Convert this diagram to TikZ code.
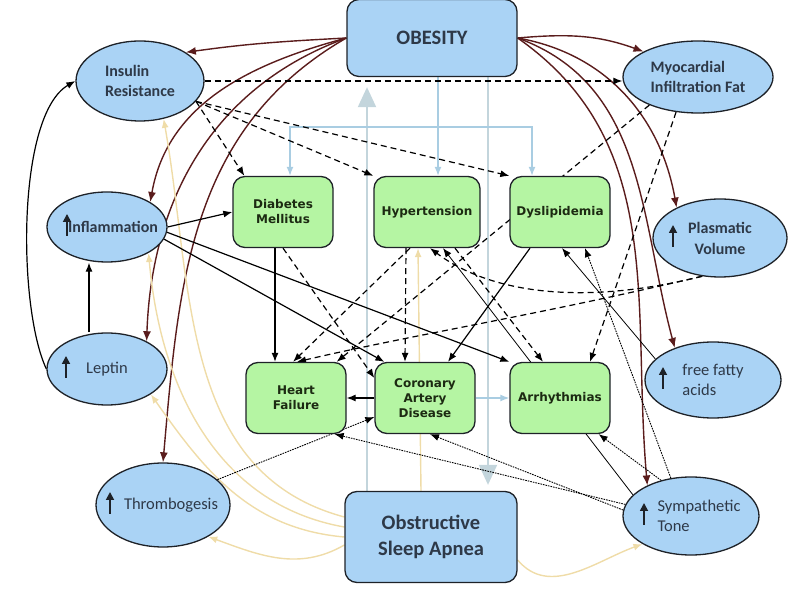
\documentclass[tikz,border=0pt]{standalone}
\usepackage{fontspec}
\setmainfont{Carlito}
\newfontfamily\boxfont{DejaVu Sans}
\usetikzlibrary{arrows.meta,shapes.geometric,backgrounds}
\definecolor{bluefill}{HTML}{AAD3F5}
\definecolor{greenfill}{HTML}{B5F5A3}
\definecolor{framec}{HTML}{1E2228}
\definecolor{inkc}{HTML}{2E3948}
\definecolor{greenink}{HTML}{1C2A12}
\definecolor{fatred}{HTML}{5A1C1C}
\definecolor{osatan}{HTML}{EFDCA8}
\definecolor{linkblue}{HTML}{A9CDE2}
\definecolor{bigray}{HTML}{C3D5DC}

\begin{document}
\begin{tikzpicture}[x=1pt,y=1pt,
  bigbox/.style={draw=framec,line width=1.3pt,fill=bluefill,rounded corners=12pt,text=inkc,align=center,font=\fontsize{20.5}{26}\selectfont\bfseries},
  sickbox/.style={draw=framec,line width=1.3pt,fill=greenfill,rounded corners=12pt,minimum width=100pt,minimum height=71pt,inner sep=2pt,text=greenink,align=center,font=\boxfont\bfseries\fontsize{12}{15}\selectfont},
  cause/.style={ellipse,draw=framec,line width=1.3pt,fill=bluefill,inner sep=0pt,text=inkc,align=left,font=\fontsize{16.5}{19.5}\selectfont},
  boldcause/.style={cause,font=\fontsize{16}{19.5}\selectfont\bfseries},
  upmark/.style={line width=1.7pt,draw=framec,-{Triangle[length=8pt,width=8pt]}},
  link/.style={line width=1.2pt,>={Latex[length=9pt,width=7pt]}},
  dashlink/.style={link,dash pattern=on 6pt off 4pt},
  dotlink/.style={line width=.9pt,dash pattern=on 1.6pt off 1pt,>={Latex[length=9pt,width=7pt]}},
  thinlink/.style={line width=.8pt,>={Latex[length=9pt,width=7pt]}},
  fatlink/.style={draw=fatred,line width=1.4pt,>={Latex[length=10pt,width=8pt]}},
  osalink/.style={draw=osatan,line width=1.4pt,>={Latex[length=9pt,width=7pt]}},
  bluelink/.style={draw=linkblue,line width=1.4pt,>={Latex[length=9pt,width=7pt]}},
  bigarrow/.style={draw=bigray,line width=2pt,-{Triangle[length=20pt,width=18pt]}}]
\useasboundingbox (0,0) rectangle (800,613);
\node[bigbox,minimum width=170pt,minimum height=77pt] (obesity) at (432,575) {OBESITY};
\node[bigbox,minimum width=172pt,minimum height=91pt] (osa) at (431,76) {Obstructive\\Sleep Apnea};
\node[sickbox] (dm) at (283,401) {Diabetes\\Mellitus};
\node[sickbox,minimum width=106pt] (ht) at (427,401) {Hypertension};
\node[sickbox] (dys) at (560,401) {Dyslipidemia};
\node[sickbox] (hf) at (296,215) {Heart\\Failure};
\node[sickbox] (cad) at (425,215) {Coronary\\Artery\\Disease};
\node[sickbox] (arr) at (560,215) {Arrhythmias};
\node[boldcause,minimum width=128pt,minimum height=80pt] (ir) at (140,532) {Insulin\\Resistance};
\node[boldcause,minimum width=150pt,minimum height=72pt] (mif) at (698,536) {Myocardial\\Infiltration Fat};
\node[boldcause,minimum width=120pt,minimum height=70pt,inner xsep=-14pt] (infl) at (107,386) {\hspace*{12pt}Inflammation};
\node[cause,minimum width=134pt,minimum height=78pt,align=center,font=\fontsize{16}{21}\selectfont\bfseries] (pv) at (720,375) {Plasmatic\\Volume};
\node[cause,minimum width=120pt,minimum height=72pt] (lep) at (107,244) {Leptin};
\node[cause,minimum width=136pt,minimum height=76pt] (ffa) at (713,233) {free fatty\\acids};
\node[cause,minimum width=134pt,minimum height=84pt,inner xsep=-14pt] (thr) at (163,108) {\hspace*{16pt}Thrombogesis};
\node[cause,minimum width=136pt,minimum height=78pt,inner xsep=-14pt] (sym) at (691,97) {\hspace*{16pt}Sympathetic\\\hspace*{16pt}Tone};
\foreach \n/\dx in {infl/-40,lep/-41,thr/-53,pv/-47,ffa/-50,sym/-47}
  \draw[upmark] ([shift={(\dx,-9)}]\n.center) -- ++(0,22);
\begin{scope}[on background layer]
% obesity and sleep apnea
\draw[bigarrow,shorten >=10pt] ([xshift=-64]osa.north) -- ([xshift=-65]obesity.south);
\draw[bigarrow,shorten >=6pt] ([xshift=56]obesity.south) -- ([xshift=57]osa.north);
\draw[bluelink,->] ([xshift=6]obesity.south) -- ([xshift=11]ht.north);
\draw[bluelink,<->] ([xshift=7]dm.north) -- ++(0,49) -| ([xshift=-28]dys.north);
\draw[bluelink,->] (cad.east) -- (arr.west);
\draw[fatlink,->] (obesity.west) to[out=183,in=8] (ir.32);
\draw[fatlink,->] (obesity.west) to[out=195,in=80] (infl.30);
\draw[fatlink,->] (obesity.west) to[out=200,in=88] (lep.35);
\draw[fatlink,->] (obesity.west) to[out=210,in=85] (thr.north);
\draw[fatlink,->] (obesity.east) to[out=5,in=160] (mif.155);
\draw[fatlink,->] (obesity.east) to[out=-10,in=100] (pv.145);
\draw[fatlink,->] (obesity.east) to[out=-20,in=105] (ffa.140);
\draw[fatlink,->] (obesity.east) to[out=-35,in=95] (sym.145);
\draw[osalink,->] ([yshift=20]osa.west) to[out=165,in=-80] (ir.-58);
\draw[osalink,->] ([yshift=10]osa.west) to[out=170,in=-85] (infl.-32);
\draw[osalink,->] (osa.west) to[out=175,in=-55] (lep.-30);
\draw[osalink,->] ([yshift=-8]osa.west) to[out=-150,in=-20] (thr.-35);
\draw[osalink,->] ([xshift=-10]osa.north) -- ([xshift=-9]ht.south);
\draw[osalink,->] ([yshift=-23]osa.east) to[out=-50,in=-160] (sym.-150);
% causes
\draw[link,->] ([xshift=-18]lep.north) -- ([xshift=-18]infl.south);
\draw[link,->] (lep.west) to[out=115,in=210,looseness=.6] (ir.west);
\draw[link,->] (infl.east) -- (dm.west);
\draw[link,->] (infl.-5) -- (arr.north west);
\draw[link,->] (infl.-12) -- ([xshift=10]cad.north west);
\draw[link,->] ([xshift=-8]dm.south) -- ([xshift=-21]hf.north);
\draw[link,->] ([xshift=-30]dys.south) -- ([xshift=23]cad.north);
\draw[link,->] (cad.west) -- (hf.east);
\draw[dashlink,->] (ir.east) -- (ir.east -| mif.west);
\draw[dashlink,->] (ir.-20) -- ([xshift=12]dm.north west);
\draw[dashlink,->] (ir.-20) -- (ht.north west);
\draw[dashlink,->] (ir.-20) -- (dys.north west);
\draw[dashlink,->] (mif.-150) -- ([xshift=-10]hf.north east);
\draw[dashlink,->] (mif.-122) -- ([xshift=30]arr.north);
\draw[dashlink,->] ([xshift=-17]ht.south) -- ([xshift=-3]hf.north);
\draw[dashlink,->] ([xshift=-21]ht.south) -- ([xshift=-20]cad.north);
\draw[dashlink,->] ([xshift=28]ht.south) -- ([xshift=-17]arr.north);
\draw[dashlink,->] (dm.south) -- ([yshift=20]cad.west);
\draw[dashlink,->] (pv.-115) .. controls +(-120,-30) and +(60,-45) .. ([xshift=3]ht.south);
\draw[dashlink,->] (pv.-115) .. controls +(-170,-40) and +(120,28) .. ([xshift=1]hf.north);
\draw[dotlink,->] (thr.25) -- ([yshift=-19]cad.west);
\draw[dotlink,->] (sym.170) -- ([xshift=-12]hf.south east);
\draw[dotlink,->] (sym.175) -- ([xshift=5]cad.south);
\draw[dotlink,->] (sym.130) -- ([xshift=-12]arr.south east);
\draw[dotlink,->] (sym.118) -- ([xshift=25]dys.south);
\draw[thinlink,->] (sym.160) -- ([xshift=16]ht.south);
\draw[thinlink,->] (ffa.160) -- ([xshift=2]dys.south);
\end{scope}
\end{tikzpicture}
\end{document}
